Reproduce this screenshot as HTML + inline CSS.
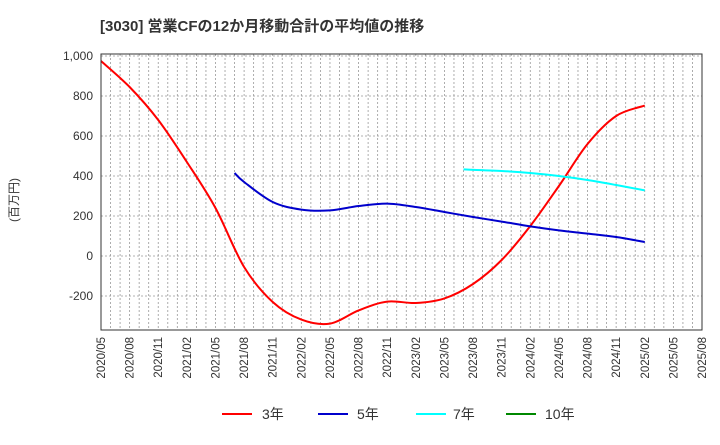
<!DOCTYPE html>
<html><head><meta charset="utf-8"><style>
body{margin:0;background:#fff;width:720px;height:440px;overflow:hidden;font-family:"Liberation Sans","Noto Sans CJK JP",sans-serif}
</style></head><body>
<svg id="chart" width="720" height="440" xmlns="http://www.w3.org/2000/svg" font-family="Liberation Sans, Noto Sans CJK JP, sans-serif">
<text x="100" y="31" font-size="15" font-weight="bold" fill="#333">[3030]  営業CFの12か月移動合計の平均値の推移</text>
<text transform="translate(18,200) rotate(-90)" text-anchor="middle" font-size="12" fill="#333">(百万円)</text>
<g id="grid"></g><g id="series"></g><g id="axes"></g>
<g font-size="14" fill="#333">
<line x1="222" y1="414" x2="252" y2="414" stroke="#f00" stroke-width="2"/><text x="262" y="419">3年</text>
<line x1="318" y1="414" x2="348" y2="414" stroke="#00c" stroke-width="2"/><text x="357" y="419">5年</text>
<line x1="416" y1="414" x2="446" y2="414" stroke="#0ff" stroke-width="2"/><text x="453" y="419">7年</text>
<line x1="506" y1="414" x2="536" y2="414" stroke="#080" stroke-width="2"/><text x="545" y="419">10年</text>
</g>
</svg>
<script>
const xLabels=["2020/05","2020/08","2020/11","2021/02","2021/05","2021/08","2021/11","2022/02","2022/05","2022/08","2022/11","2023/02","2023/05","2023/08","2023/11","2024/02","2024/05","2024/08","2024/11","2025/02","2025/05","2025/08"];
const yTicks=[-200,0,200,400,600,800,1000];
const m3=[0,3,6,9,12,15,18,21,24,27,30,33,36,39,42,45,48,51,54,57];
const v3=[975,845,680,470,240,-55,-230,-318,-338,-272,-228,-235,-212,-140,-20,150,350,560,700,752];
const m5=[14,15,18,21,24,27,30,33,36,39,42,45,48,51,54,57];
const v5=[415,370,270,232,228,250,262,245,220,195,172,148,128,112,95,70];
const m7=[38,42,45,48,51,54,57];
const v7=[433,425,415,400,380,355,328];
const L=101,R=702,T=54,B=330,Y0=-370,Y1=1010,NM=63;
const X=m=>L+(R-L)*m/NM, Y=v=>B-(B-T)*(v-Y0)/(Y1-Y0);
const NS="http://www.w3.org/2000/svg";
function mk(t,a,p){const e=document.createElementNS(NS,t);for(const k in a)e.setAttribute(k,a[k]);p.appendChild(e);return e;}
const grid=document.getElementById('grid'),axes=document.getElementById('axes'),ser=document.getElementById('series');
for(let m=1;m<NM;m++){const l=mk('line',{x1:X(m),x2:X(m),y1:T,y2:B,stroke:'#999','stroke-width':0.8,'stroke-dasharray':'2,2'},grid);

}
yTicks.forEach(v=>{const l=mk('line',{x1:L,x2:R,y1:Y(v),y2:Y(v),stroke:'#999','stroke-width':0.8,'stroke-dasharray':'2,2'},grid);


const t=mk('text',{x:L-8,y:Y(v)+4,'text-anchor':'end','font-size':12,fill:'#333'},axes);t.textContent=v.toLocaleString('en-US');

});
xLabels.forEach((s,i)=>{const x=X(i*3);const t=mk('text',{transform:`translate(${x+4},337) rotate(-90)`,'text-anchor':'end','font-size':11.5,fill:'#333'},axes);t.textContent=s;

});
const fr=mk('rect',{x:L,y:T,width:R-L,height:B-T,fill:'none',stroke:'#333','stroke-width':1},axes);


function path(ms,vs){const p=ms.map((m,i)=>[X(m),Y(vs[i])]);let d=`M${p[0][0]},${p[0][1]}`;
for(let i=0;i<p.length-1;i++){const p0=p[i-1]||p[i],p1=p[i],p2=p[i+1],p3=p[i+2]||p2;
d+=` C${p1[0]+(p2[0]-p0[0])/6},${p1[1]+(p2[1]-p0[1])/6} ${p2[0]-(p3[0]-p1[0])/6},${p2[1]-(p3[1]-p1[1])/6} ${p2[0]},${p2[1]}`;}return d;}
[[m3,v3,'#f00','line-3yr'],[m5,v5,'#00c','line-5yr'],[m7,v7,'#0ff','line-7yr']].forEach(s=>{
const e=mk('path',{d:path(s[0],s[1]),fill:'none',stroke:s[2],'stroke-width':2},ser);

});
</script>
</body></html>
